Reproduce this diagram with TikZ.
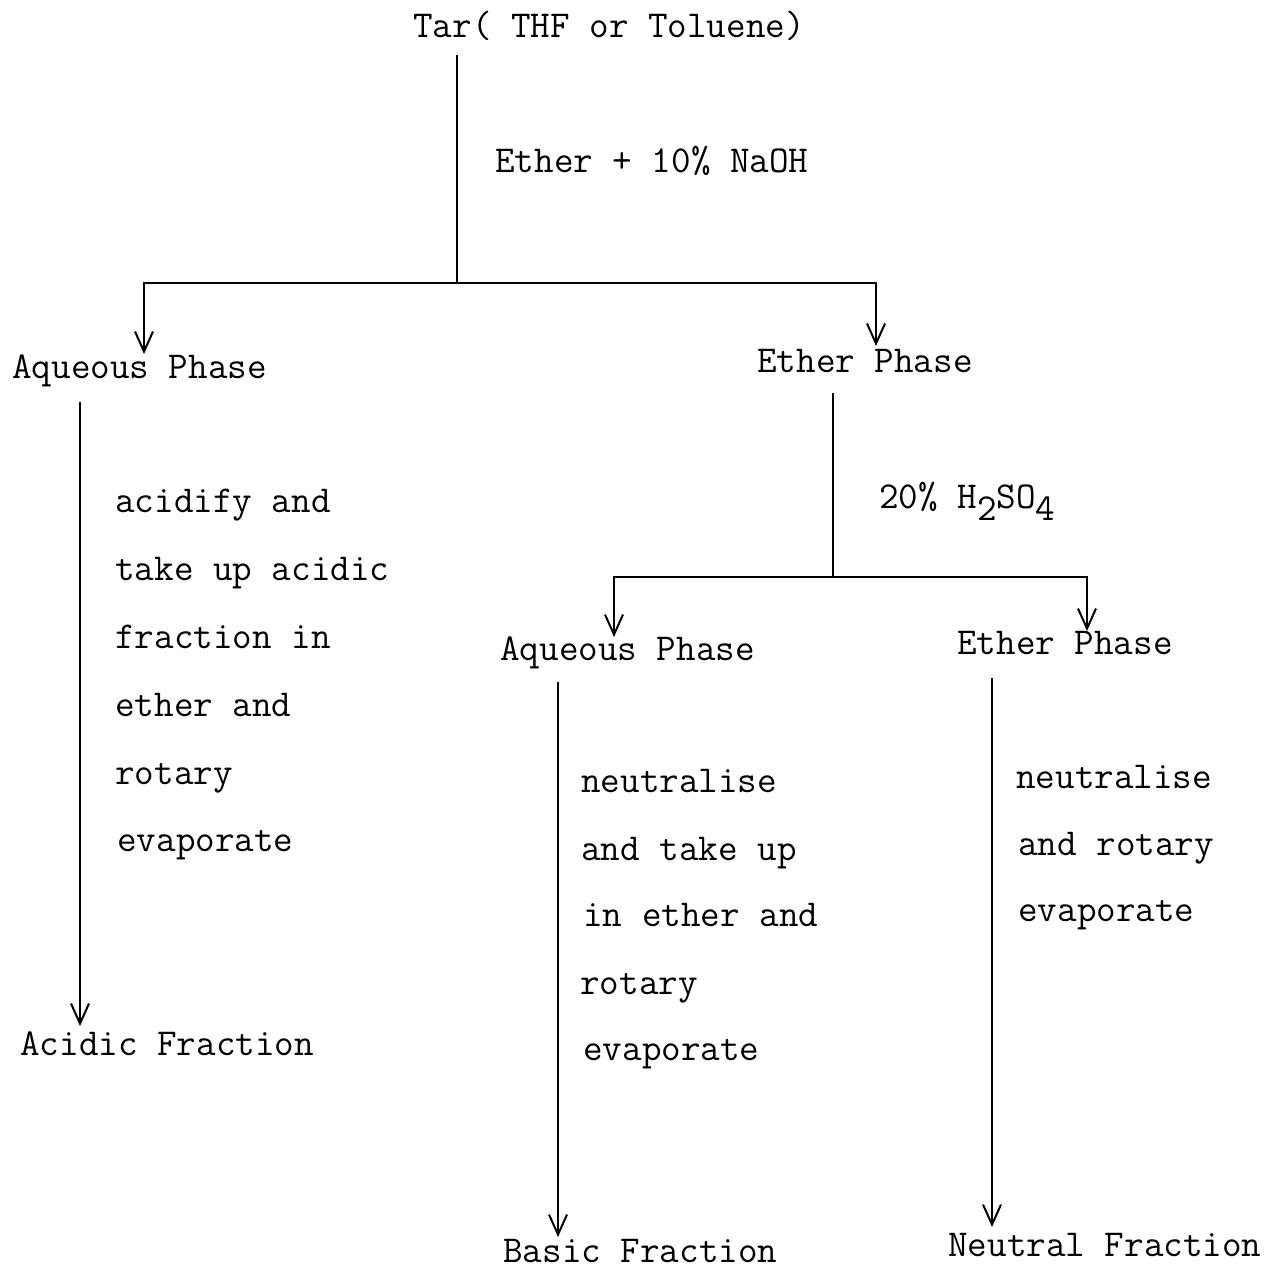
\documentclass[tikz,border=0pt]{standalone}
\usepackage{fontspec}
\setmainfont{Latin Modern Mono}
\usetikzlibrary{arrows.meta}
\begin{document}
\begin{tikzpicture}[x=0.5pt,y=-0.5pt,
  lbl/.style={inner sep=0pt,anchor=base west,font=\fontsize{19}{22}\selectfont},
  conn/.style={line width=1pt},
  arr/.style={line width=1pt,-{Straight Barb[length=10pt,width=9pt,line width=1pt]}}]
\useasboundingbox (0,0) rectangle (1269,1268);
\clip (0,0) rectangle (1269,1268);
\fill[white] (0,0) rectangle (1269,1268);
% texts
\node[lbl] (tar) at (413,38) {Tar( THF or Toluene)};
\node[lbl] (r1) at (495,172) {Ether + 10\% NaOH};
\node[lbl] (aq1) at (12,378) {Aqueous Phase};
\node[lbl] (et1) at (757,372) {Ether Phase};
\node[lbl] (s1a) at (115,512) {acidify and};
\node[lbl] (s1b) at (115,580) {take up acidic};
\node[lbl] (s1c) at (115,648) {fraction in};
\node[lbl] (s1d) at (115,716) {ether and};
\node[lbl] (s1e) at (115,784) {rotary};
\node[lbl] (s1f) at (117,851) {evaporate};
\node[lbl] (acid) at (20,1055) {Acidic Fraction};
\node[lbl] (r2) at (879,508) {20\% H\raisebox{-6pt}{2}SO\raisebox{-6pt}{4}};
\node[lbl] (aq2) at (500,660) {Aqueous Phase};
\node[lbl] (et2) at (957,654) {Ether Phase};
\node[lbl] (s2a) at (581,792) {neutralise};
\node[lbl] (s2b) at (581,860) {and take up};
\node[lbl] (s2c) at (583,926) {in ether and};
\node[lbl] (s2d) at (580,994) {rotary};
\node[lbl] (s2e) at (583,1060) {evaporate};
\node[lbl] (basic) at (503,1262) {Basic Fraction};
\node[lbl] (s3a) at (1016,788) {neutralise};
\node[lbl] (s3b) at (1018,855) {and rotary};
\node[lbl] (s3c) at (1018,921) {evaporate};
\node[lbl] (neut) at (948,1256) {Neutral Fraction};
% junction coordinates
\coordinate (t0) at (457,55);
\coordinate (j1) at (457,283);
\coordinate (j1l) at (144,283);
\coordinate (j1r) at (876,283);
\coordinate (a0) at (80,402);
\coordinate (e0) at (833,393);
\coordinate (j2) at (833,577);
\coordinate (j2l) at (614,577);
\coordinate (j2r) at (1087,577);
\coordinate (b0) at (558,682);
\coordinate (n0) at (992,678);
% connectors
\draw[conn] (t0) -- (j1);
\draw[arr] (j1) -- (j1l) -- (j1l |- 0,354);
\draw[arr] (j1) -- (j1r) -- (j1r |- 0,346);
\draw[arr] (a0) -- (a0 |- 0,1026);
\draw[conn] (e0) -- (j2);
\draw[arr] (j2) -- (j2l) -- (j2l |- 0,637);
\draw[arr] (j2) -- (j2r) -- (j2r |- 0,631);
\draw[arr] (b0) -- (b0 |- 0,1237);
\draw[arr] (n0) -- (n0 |- 0,1227);
\end{tikzpicture}
\end{document}
